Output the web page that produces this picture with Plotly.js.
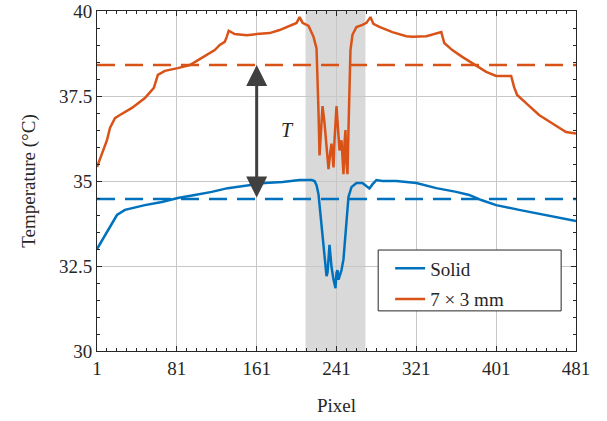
<!DOCTYPE html>
<html>
<head>
<meta charset="utf-8">
<script src="https://cdn.plot.ly/plotly-3.0.1.min.js"></script>
<style>html,body{margin:0;padding:0;background:#fff;}#chart{width:607px;height:421px;}</style>
</head>
<body>
<div id="chart"></div>
<script>
// Solid sample
const solidX = [1, 5, 12, 21, 29, 49, 66, 82, 99, 116, 132, 152, 169, 187, 204, 216, 219, 221, 223, 224, 225, 227, 229, 231, 232, 234, 235, 236, 238, 240, 241, 242, 243, 245, 246, 248, 250, 251, 253, 256, 261, 267, 271, 274, 277, 281, 287, 301, 321, 341, 361, 374, 386, 401, 424, 454, 481];
const solidY = [33.0, 33.2, 33.56, 34.0, 34.15, 34.29, 34.38, 34.5, 34.59, 34.68, 34.79, 34.88, 34.94, 34.97, 35.03, 35.03, 35.0, 34.88, 34.6, 34.3, 34.0, 33.4, 32.7, 32.2, 32.3, 33.12, 32.8, 32.47, 32.1, 31.85, 32.3, 32.38, 32.1, 32.3, 32.38, 32.7, 33.5, 33.94, 34.53, 34.82, 34.94, 34.94, 34.86, 34.78, 34.9, 35.03, 35.0, 35.0, 34.94, 34.79, 34.68, 34.59, 34.44, 34.29, 34.15, 33.97, 33.82];
// 7 x 3 mm sample
const meshX = [1, 6, 11, 14, 19, 24, 36, 49, 58, 62, 69, 82, 94, 106, 119, 124, 129, 131, 133, 139, 151, 161, 174, 184, 196, 201, 204, 207, 213, 218, 221, 222, 223, 224, 225, 227, 229, 231, 233, 235, 236, 238, 239, 241, 243, 244, 246, 247, 248, 249, 250, 251, 252, 253, 254, 255, 257, 261, 267, 271, 275, 278, 284, 297, 311, 317, 331, 343, 346, 349, 357, 367, 377, 391, 401, 416, 419, 422, 431, 444, 457, 471, 481];
const meshY = [35.41, 35.8, 36.2, 36.56, 36.85, 36.94, 37.15, 37.44, 37.74, 38.12, 38.24, 38.32, 38.41, 38.62, 38.85, 39.0, 39.09, 39.24, 39.42, 39.32, 39.29, 39.32, 39.35, 39.44, 39.59, 39.65, 39.82, 39.65, 39.56, 39.24, 38.9, 38.2, 37.0, 35.75, 36.3, 37.2, 36.7, 35.9, 35.35, 35.9, 36.1, 35.4, 36.2, 37.2, 36.3, 35.9, 36.2, 35.4, 35.2, 36.1, 36.5, 35.5, 35.2, 36.5, 37.9, 38.85, 39.3, 39.53, 39.59, 39.65, 39.82, 39.62, 39.53, 39.38, 39.26, 39.24, 39.26, 39.35, 39.38, 39.06, 38.85, 38.65, 38.47, 38.21, 38.09, 38.09, 37.76, 37.53, 37.29, 36.94, 36.7, 36.44, 36.4];
const solidMean = 34.47;
const meshMean = 38.41;
const xRange = [1, 481];
const shadeRange = [210, 270];
const xTicks = [1, 81, 161, 241, 321, 401, 481];
const yTicks = [30, 32.5, 35, 37.5, 40];
const yTickText = ['30', '32.5', '35', '37.5', '40'];
const arrowX = 161;
const labelT = {x: 192, y: 36.5, text: 'T'};

const blue = '#0072BD', red = '#D95319';
const serif = "'Liberation Serif', 'Times New Roman', serif";
const ink = '#262626';

const traces = [
  {x: xRange, y: [solidMean, solidMean], mode: 'lines', line: {color: blue, width: 2.5, dash: '18px,10px'}, showlegend: false, hoverinfo: 'skip'},
  {x: xRange, y: [meshMean, meshMean], mode: 'lines', line: {color: red, width: 2.5, dash: '18px,10px'}, showlegend: false, hoverinfo: 'skip'},
  {x: solidX, y: solidY, mode: 'lines', name: 'Solid', legendgroup: 'a', line: {color: blue, width: 2.5}},
  {x: meshX, y: meshY, mode: 'lines', name: '7 × 3 mm', legendgroup: 'b', line: {color: red, width: 2.5}}
];

const axisCommon = {
  showline: true, linecolor: ink, linewidth: 1, mirror: 'ticks',
  ticks: 'inside', ticklen: 5, tickcolor: ink, tickwidth: 1,
  showgrid: true, gridcolor: '#c8c8c8', gridwidth: 1, zeroline: false,
  tickfont: {family: serif, size: 19, color: ink}
};

const layout = {
  width: 607, height: 421,
  margin: {l: 97, r: 31, t: 11, b: 70},
  paper_bgcolor: '#fff', plot_bgcolor: 'rgba(0,0,0,0)',
  font: {family: serif, color: ink},
  xaxis: Object.assign({}, axisCommon, {
    range: xRange, tickvals: xTicks,
    minor: {dtick: 10, tick0: 1, ticks: 'inside', ticklen: 3, tickcolor: ink, showgrid: false},
    title: {text: 'Pixel', font: {family: serif, size: 19, color: ink}, standoff: 20}
  }),
  yaxis: Object.assign({}, axisCommon, {
    range: [30, 40], tickvals: yTicks, ticktext: yTickText,
    minor: {dtick: 0.5, tick0: 30, ticks: 'inside', ticklen: 3, tickcolor: ink, showgrid: false},
    title: {text: 'Temperature (°C)', font: {family: serif, size: 19, color: ink}, standoff: 18}
  }),
  shapes: [
    {type: 'rect', layer: 'below', xref: 'x', yref: 'paper', x0: shadeRange[0], x1: shadeRange[1], y0: 0, y1: 1, fillcolor: '#d9d9d9', line: {width: 0}},
    {type: 'rect', layer: 'above', xref: 'paper', yref: 'paper', x0: 0.587, x1: 0.969, y0: 0.118, y1: 0.297, fillcolor: '#fff', line: {color: ink, width: 1}}
  ],
  annotations: [
    {x: arrowX, y: meshMean, ax: arrowX, ay: solidMean, xref: 'x', yref: 'y', axref: 'x', ayref: 'y', text: '', showarrow: true, arrowhead: 2, startarrowhead: 2, arrowside: 'end+start', arrowsize: 1.4, startarrowsize: 1.4, arrowwidth: 3, arrowcolor: '#404040', standoff: 0, startstandoff: 0},
    {x: labelT.x, y: labelT.y, xref: 'x', yref: 'y', text: '<i>' + labelT.text + '</i>', showarrow: false, font: {family: serif, size: 20, color: ink}}
  ],
  legend: {
    x: 0.612, y: 0.299, xanchor: 'left', yanchor: 'top',
    bgcolor: 'rgba(0,0,0,0)', borderwidth: 0,
    font: {family: serif, size: 19, color: ink},
    tracegroupgap: 3
  }
};

Plotly.newPlot('chart', traces, layout, {displayModeBar: false, staticPlot: true});
</script>
</body>
</html>
